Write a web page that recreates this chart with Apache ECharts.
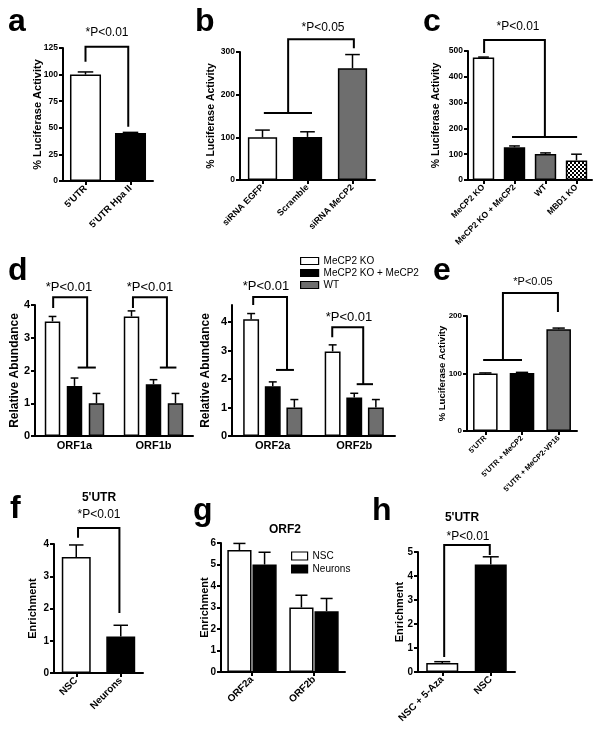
<!DOCTYPE html>
<html><head><meta charset="utf-8">
<script src="https://cdn.jsdelivr.net/npm/echarts@6/dist/echarts.min.js"></script>
<style>html,body{margin:0;padding:0;background:#fff}#c{width:601px;height:729px}</style>
</head><body><div id="c"></div>
<script>
// ---------------- data ----------------
const aCats = ["5'UTR", "5'UTR Hpa II"];
const aVals = [100, 45];
const aErr = [2.5, 0.7];

const bCats = ["siRNA EGFP", "Scramble", "siRNA MeCP2"];
const bVals = [100, 101, 262];
const bErr = [17, 12, 32];

const cCats = ["MeCP2 KO", "MeCP2 KO + MeCP2", "WT", "MBD1 KO"];
const cVals = [475, 127, 101, 76];
const cErr = [1.5, 5, 4, 24];

const dSeriesNames = ["MeCP2 KO", "MeCP2 KO + MeCP2", "WT"];
const dLeftCats = ["ORF1a", "ORF1b"];
const dLeftVals = [[3.5, 3.65], [1.53, 1.58], [1.0, 1.0]];
const dLeftErr = [[0.15, 0.17], [0.24, 0.14], [0.3, 0.3]];
const dRightCats = ["ORF2a", "ORF2b"];
const dRightVals = [[4.1, 2.97], [1.75, 1.35], [1.0, 1.0]];
const dRightErr = [[0.2, 0.23], [0.15, 0.15], [0.28, 0.28]];

const eCats = ["5'UTR", "5'UTR + MeCP2", "5'UTR + MeCP2-VP16"];
const eVals = [100, 101, 177];
const eErr = [1, 1, 2];

const fCats = ["NSC", "Neurons"];
const fVals = [3.6, 1.13];
const fErr = [0.37, 0.35];

const gSeriesNames = ["NSC", "Neurons"];
const gCats = ["ORF2a", "ORF2b"];
const gVals = [[5.67, 3.0], [5.0, 2.83]];
const gErr = [[0.31, 0.57], [0.57, 0.59]];

const hCats = ["NSC + 5-Aza", "NSC"];
const hVals = [0.38, 4.48];
const hErr = [0.05, 0.32];

// significance brackets: polylines in (category position, value)
const aBrackets = [[[0, 112], [0, 126.2], [0.95, 126.2], [0.95, 51]]];
const bBrackets = [[[2.03, 309], [2.03, 330], [0.57, 330], [0.57, 157]], [[0.03, 157], [1.1, 157]]];
const cBrackets = [[[0.02, 492], [0.02, 543], [1.98, 543], [1.98, 167]], [[0.92, 167], [3.02, 167]]];
const dLeftBrackets = [
  [[-0.27, 3.91], [-0.27, 4.24], [0.16, 4.24], [0.16, 2.09]], [[0.04, 2.09], [0.27, 2.09]],
  [[0.74, 3.91], [0.74, 4.24], [1.17, 4.24], [1.17, 2.09]], [[1.08, 2.09], [1.29, 2.09]]
];
const dRightBrackets = [
  [[-0.24, 4.6], [-0.24, 4.88], [0.175, 4.88], [0.175, 2.32]], [[0.04, 2.32], [0.26, 2.32]],
  [[0.73, 3.47], [0.73, 3.82], [1.11, 3.82], [1.11, 1.82]], [[1.03, 1.82], [1.23, 1.82]]
];
const eBrackets = [[[1.98, 207], [1.98, 240], [0.48, 240], [0.48, 123.5]], [[-0.06, 123.5], [1.0, 123.5]]];
const fBrackets = [[[0.04, 4.19], [0.04, 4.5], [0.97, 4.5], [0.97, 1.86]]];
const hBrackets = [[[0.04, 0.63], [0.04, 5.29], [0.98, 5.29], [0.98, 4.88]]];

const pText01 = "*P<0.01";
const pText05 = "*P<0.05";

// ---------------- styles ----------------
const FONT = '"Liberation Sans", Arial, Helvetica, sans-serif';
const WHITE = '#ffffff', BLACK = '#000000', GRAY = '#6e6e6e';
const pc = document.createElement('canvas');
pc.width = 4; pc.height = 4;
const pctx = pc.getContext('2d');
pctx.fillStyle = '#fff'; pctx.fillRect(0, 0, 4, 4);
pctx.fillStyle = '#000'; pctx.fillRect(0, 0, 2, 2); pctx.fillRect(2, 2, 2, 2);
const CHECK = { image: pc, repeat: 'repeat' };

const grids = [], xAxes = [], yAxes = [], series = [];

function errRender(barW) {
  return function (params, api) {
    const x = api.value(0), v = api.value(1), e = api.value(2);
    const p0 = api.coord([x, v]), p1 = api.coord([x, e]);
    const band = api.size([1, 0])[0];
    const cw = band * barW * 0.25;
    const st = { stroke: '#000', lineWidth: 1.5 };
    return { type: 'group', children: [
      { type: 'line', shape: { x1: p0[0], y1: p0[1], x2: p1[0], y2: p1[1] }, style: st },
      { type: 'line', shape: { x1: p1[0] - cw, y1: p1[1], x2: p1[0] + cw, y2: p1[1] }, style: st }
    ] };
  };
}

function addPanel(p) {
  const k = grids.length;
  grids.push({ left: p.box[0], top: p.box[1], width: p.box[2], height: p.box[3], containLabel: false, outerBoundsMode: 'none' });
  const n = p.cats.length;
  xAxes.push({
    type: 'category', gridIndex: k, data: p.cats,
    axisLine: { show: true, onZero: false, lineStyle: { color: '#000', width: 2 } },
    axisTick: { show: p.xTicks !== false, alignWithLabel: true, length: 4, lineStyle: { color: '#000', width: 2 } },
    axisLabel: { interval: 0, rotate: p.rotate || 0, margin: p.xMargin || 6, fontSize: p.xFont, fontWeight: 'bold', color: '#000', fontFamily: FONT, hideOverlap: false },
    splitLine: { show: false }
  });
  xAxes.push({ type: 'value', gridIndex: k, min: -0.5, max: n - 0.5, show: false });
  yAxes.push({
    type: 'value', gridIndex: k, min: 0, max: p.yMax, interval: p.yInterval,
    name: p.yName, nameLocation: 'middle', nameRotate: 90, nameGap: p.nameGap, nameMoveOverlap: false,
    nameTextStyle: { fontSize: p.nameFont, fontWeight: 'bold', color: '#000', fontFamily: FONT },
    axisLine: { show: true, onZero: false, lineStyle: { color: '#000', width: 2 } },
    axisTick: { show: true, length: 4, lineStyle: { color: '#000', width: 2 }, customValues: p.yTicks },
    axisLabel: { fontSize: p.yFont, fontWeight: 'bold', color: '#000', fontFamily: FONT, margin: 5, customValues: p.yTicks },
    splitLine: { show: false }
  });
  const ns = p.groups.length;
  const gap = p.barGap || 0;
  p.groups.forEach((g, s) => {
    const data = g.vals.map((v, i) => g.colors ? { value: v, itemStyle: { color: g.colors[i] } } : v);
    const ser = {
      type: 'bar', name: g.name, xAxisIndex: 2 * k, yAxisIndex: k,
      barWidth: (p.barW * 100) + '%', barGap: (gap * 100) + '%', data,
      itemStyle: { borderColor: '#000', borderWidth: 1.5 },
      emphasis: { disabled: true }, z: 2
    };
    if (g.color) ser.itemStyle.color = g.color;
    series.push(ser);
    const off = (s - (ns - 1) / 2) * p.barW * (1 + gap);
    series.push({
      type: 'custom', xAxisIndex: 2 * k + 1, yAxisIndex: k, silent: true, z: 3,
      data: g.vals.map((v, i) => [i + off, v, v + g.errs[i]]),
      renderItem: errRender(p.barW)
    });
  });
  if (p.brackets) {
    series.push({
      type: 'custom', xAxisIndex: 2 * k + 1, yAxisIndex: k, silent: true, z: 4,
      data: p.brackets.map((b, i) => [b[0][0], b[0][1], i]),
      renderItem: (params, api) => {
        const pts = p.brackets[params.dataIndex].map(q => api.coord(q));
        return { type: 'polyline', shape: { points: pts }, style: { stroke: '#000', lineWidth: 2, fill: null } };
      }
    });
  }
}

const LUC = '% Luciferase Activity';
addPanel({ box: [63, 48, 90, 133], cats: aCats, yMax: 125, yInterval: 25, yFont: 8.5, yName: LUC, nameFont: 11, nameGap: 20,
  xFont: 9.5, rotate: 45, barW: 0.69, groups: [{ name: 'a', vals: aVals, errs: aErr, colors: [WHITE, BLACK] }], brackets: aBrackets });
addPanel({ box: [240, 52, 135, 128], cats: bCats, yMax: 300, yInterval: 100, yFont: 8.5, yName: LUC, nameFont: 10.5, nameGap: 23,
  xFont: 9, rotate: 45, barW: 0.65, groups: [{ name: 'b', vals: bVals, errs: bErr, colors: [WHITE, BLACK, GRAY] }], brackets: bBrackets });
addPanel({ box: [468, 51, 124, 129], cats: cCats, yMax: 500, yInterval: 100, yFont: 8.5, yName: LUC, nameFont: 10.5, nameGap: 26,
  xFont: 8.5, rotate: 45, barW: 0.69, groups: [{ name: 'c', vals: cVals, errs: cErr, colors: [WHITE, BLACK, GRAY, CHECK] }], brackets: cBrackets });
addPanel({ box: [35, 305, 158, 131], cats: dLeftCats, yMax: 4, yInterval: 1, yFont: 11, yName: 'Relative Abundance', nameFont: 12, nameGap: 14,
  xFont: 11, rotate: 0, xTicks: false, xMargin: 4, barW: 0.196, barGap: 0.42,
  groups: dSeriesNames.map((nm, s) => ({ name: nm, vals: dLeftVals[s], errs: dLeftErr[s], color: [WHITE, BLACK, GRAY][s] })), brackets: dLeftBrackets });
addPanel({ box: [232, 305, 163, 131], cats: dRightCats, yMax: 4.6, yInterval: 1, yTicks: [0, 1, 2, 3, 4], yFont: 11, yName: 'Relative Abundance', nameFont: 12, nameGap: 20,
  xFont: 11, rotate: 0, xTicks: false, xMargin: 4, barW: 0.195, barGap: 0.36,
  groups: dSeriesNames.map((nm, s) => ({ name: nm, vals: dRightVals[s], errs: dRightErr[s], color: [WHITE, BLACK, GRAY][s] })), brackets: dRightBrackets });
addPanel({ box: [467, 316, 110, 115], cats: eCats, yMax: 200, yInterval: 100, yFont: 8, yName: LUC, nameFont: 9.5, nameGap: 20,
  xFont: 7.5, rotate: 45, barW: 0.67, groups: [{ name: 'e', vals: eVals, errs: eErr, colors: [WHITE, BLACK, GRAY] }], brackets: eBrackets });
addPanel({ box: [54, 544, 89, 129], cats: fCats, yMax: 4, yInterval: 1, yFont: 10, yName: 'Enrichment', nameFont: 11, nameGap: 16,
  xFont: 10, rotate: 45, barW: 0.65, groups: [{ name: 'f', vals: fVals, errs: fErr, colors: [WHITE, BLACK] }], brackets: fBrackets });
addPanel({ box: [221, 543, 124, 129], cats: gCats, yMax: 6, yInterval: 1, yFont: 10, yName: 'Enrichment', nameFont: 11, nameGap: 11,
  xFont: 10, rotate: 45, barW: 0.39, barGap: 0.04,
  groups: gSeriesNames.map((nm, s) => ({ name: nm, vals: gVals[s], errs: gErr[s], color: [WHITE, BLACK][s] })) });
addPanel({ box: [418, 552, 97, 120], cats: hCats, yMax: 5, yInterval: 1, yFont: 10, yName: 'Enrichment', nameFont: 11, nameGap: 13,
  xFont: 10, rotate: 45, barW: 0.66, groups: [{ name: 'h', vals: hVals, errs: hErr, colors: [WHITE, BLACK] }], brackets: hBrackets });

function txt(x, y, t, size, weight, align) {
  return { type: 'text', x: x, y: y, silent: true, z: 10,
    style: { text: t, font: weight + ' ' + size + 'px ' + FONT, fill: '#000',
      textAlign: align || 'center', textVerticalAlign: 'middle', align: align || 'center', verticalAlign: 'middle' } };
}
const graphics = [
  txt(8, 22, 'a', 32, 'bold', 'left'), txt(195, 22, 'b', 32, 'bold', 'left'), txt(423, 22, 'c', 32, 'bold', 'left'),
  txt(8, 271, 'd', 32, 'bold', 'left'), txt(433, 271, 'e', 32, 'bold', 'left'),
  txt(10, 509, 'f', 32, 'bold', 'left'), txt(193, 511, 'g', 32, 'bold', 'left'), txt(372, 511, 'h', 32, 'bold', 'left'),
  txt(107, 33, pText01, 12, 'normal'), txt(323, 28, pText05, 12, 'normal'), txt(518, 27, pText01, 12, 'normal'),
  txt(69, 287, pText01, 13, 'normal'), txt(150, 287, pText01, 13, 'normal'),
  txt(266, 286, pText01, 13, 'normal'), txt(349, 317, pText01, 13, 'normal'),
  txt(533, 282, pText05, 11, 'normal'),
  txt(99, 515, pText01, 12, 'normal'), txt(468, 537, pText01, 12, 'normal'),
  txt(99, 498, "5'UTR", 12, 'bold'), txt(285, 530, 'ORF2', 12, 'bold'), txt(462, 518, "5'UTR", 12, 'bold')
];

const chart = echarts.init(document.getElementById('c'), null, { renderer: 'canvas' });
chart.setOption({
  animation: false,
  backgroundColor: '#fff',
  grid: grids, xAxis: xAxes, yAxis: yAxes, series: series,
  legend: [
    { data: dSeriesNames, left: 300, top: 256, orient: 'vertical', icon: 'rect', itemWidth: 18, itemHeight: 7, itemGap: 2,
      selectedMode: false, itemStyle: { borderColor: '#000', borderWidth: 1.2 },
      textStyle: { fontSize: 10, fontFamily: FONT, color: '#000' }, padding: 0 },
    { data: gSeriesNames, left: 291, top: 551, orient: 'vertical', icon: 'rect', itemWidth: 16, itemHeight: 8, itemGap: 3,
      selectedMode: false, itemStyle: { borderColor: '#000', borderWidth: 1.2 },
      textStyle: { fontSize: 10, fontFamily: FONT, color: '#000' }, padding: 0 }
  ],
  graphic: graphics
});
</script></body></html>
